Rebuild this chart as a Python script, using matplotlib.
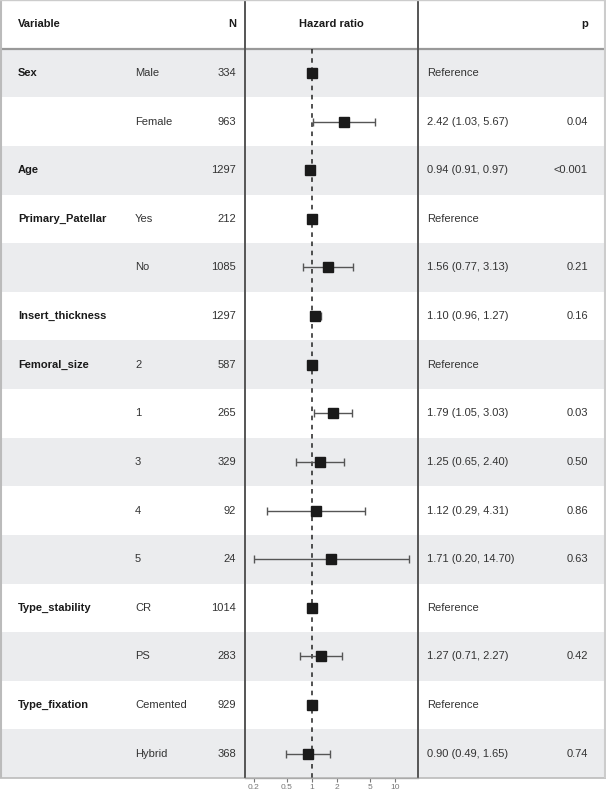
import matplotlib.pyplot as plt
import numpy as np

plt.rcParams['font.family'] = ['Liberation Sans', 'DejaVu Sans']

# table data, one entry per row
variables = ['Sex', '', 'Age', 'Primary_Patellar', '', 'Insert_thickness',
             'Femoral_size', '', '', '', '', 'Type_stability', '',
             'Type_fixation', '']
levels = ['Male', 'Female', '', 'Yes', 'No', '', '2', '1', '3', '4', '5',
          'CR', 'PS', 'Cemented', 'Hybrid']
n_obs = [334, 963, 1297, 212, 1085, 1297, 587, 265, 329, 92, 24,
         1014, 283, 929, 368]
hr = [1.0, 2.42, 0.94, 1.0, 1.56, 1.10, 1.0, 1.79, 1.25, 1.12, 1.71,
      1.0, 1.27, 1.0, 0.90]
ci_low = [np.nan, 1.03, 0.91, np.nan, 0.77, 0.96, np.nan, 1.05, 0.65, 0.29,
          0.20, np.nan, 0.71, np.nan, 0.49]
ci_high = [np.nan, 5.67, 0.97, np.nan, 3.13, 1.27, np.nan, 3.03, 2.40, 4.31,
           14.70, np.nan, 2.27, np.nan, 1.65]
p_values = ['', '0.04', '<0.001', '', '0.21', '0.16', '', '0.03', '0.50',
            '0.86', '0.63', '', '0.42', '', '0.74']
ticks = [0.2, 0.5, 1, 2, 5, 10]

W, H = 606, 792
fig = plt.figure(figsize=(W / 100, H / 100), dpi=100)
bottom = 14 / H
nrows = len(hr) + 1

# background / table axes
tab = fig.add_axes([0, bottom, 1, 1 - bottom])
tab.set_xlim(0, W)
tab.set_ylim(nrows - 0.5, -0.5)
tab.axis('off')

for i in range(1, nrows):
    if i % 2 == 1:
        tab.axhspan(i - 0.5, i + 0.5, color='#ebecee', lw=0, zorder=0)

tab.axhline(0.5, color='#999999', lw=1.6, zorder=2)
for xv in (245, 418):
    tab.axvline(xv, color='#555555', lw=1.4, zorder=3)
# outer border
tab.plot([0.5, 0.5], [-0.5, nrows - 0.5], color='#bbbbbb', lw=1.5, zorder=3)
tab.plot([W - 1.5, W - 1.5], [-0.5, nrows - 0.5], color='#cccccc', lw=1.5, zorder=3)
tab.plot([0, W], [-0.49, -0.49], color='#cccccc', lw=1, zorder=3)
tab.plot([0, W], [nrows - 0.49, nrows - 0.49], color='#bbbbbb', lw=1.2,
         zorder=1, clip_on=False)

txt = dict(fontsize=8, va='center', color='#333333')
bold = dict(fontsize=8, va='center', color='#1a1a1a', fontweight='bold')

tab.text(18, 0, 'Variable', ha='left', **bold)
tab.text(236, 0, 'N', ha='right', **bold)
tab.text(331, 0, 'Hazard ratio', ha='center', **bold)
tab.text(588, 0, 'p', ha='right', **bold)

for i in range(len(hr)):
    y = i + 1
    if variables[i]:
        tab.text(18, y, variables[i], ha='left', **bold)
    if levels[i]:
        tab.text(135, y, levels[i], ha='left', **txt)
    tab.text(236, y, str(n_obs[i]), ha='right', **txt)
    if np.isnan(ci_low[i]):
        est = 'Reference'
    else:
        est = f'{hr[i]:.2f} ({ci_low[i]:.2f}, {ci_high[i]:.2f})'
    tab.text(427, y, est, ha='left', **txt)
    if p_values[i]:
        tab.text(588, y, p_values[i], ha='right', **txt)

# forest axes
ax = fig.add_axes([245 / W, bottom, (418 - 245) / W, 1 - bottom])
ax.patch.set_alpha(0)
ax.set_xscale('log')
ax.set_xlim(10 ** -0.807, 10 ** 1.277)
ax.set_ylim(nrows - 0.5, -0.5)

ax.plot([1, 1], [0.5, nrows - 0.5], color='#222222', lw=1.1,
        linestyle=(0, (3, 3)), zorder=2)

ys = np.arange(1, nrows)
hr_a = np.array(hr)
lo = np.array(ci_low)
hi = np.array(ci_high)
has_ci = ~np.isnan(lo)
ax.errorbar(hr_a[has_ci], ys[has_ci],
            xerr=[hr_a[has_ci] - lo[has_ci], hi[has_ci] - hr_a[has_ci]],
            fmt='none', ecolor='#555555', elinewidth=1, capsize=2.6,
            capthick=1, zorder=3)
ax.plot(hr_a, ys, 's', color='#1a1a1a', markersize=6.8, zorder=4)

for s in ('top', 'left', 'right'):
    ax.spines[s].set_visible(False)
ax.spines['bottom'].set_color('#aaaaaa')
ax.spines['bottom'].set_linewidth(1)
ax.set_yticks([])
ax.set_xticks(ticks)
ax.set_xticklabels([f'{t:g}' for t in ticks])
ax.minorticks_off()
ax.tick_params(axis='x', labelsize=6, colors='#777777', length=3,
               width=0.8, pad=1.5)

fig.savefig('out.png', dpi=100)
